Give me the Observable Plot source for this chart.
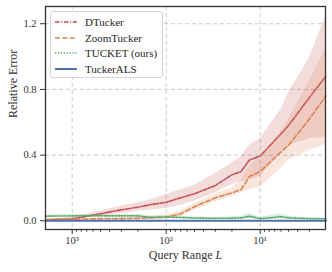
<!DOCTYPE html>
<html>
<head>
<meta charset="utf-8">
<script src="https://cdn.jsdelivr.net/npm/d3@7"></script>
<script src="https://cdn.jsdelivr.net/npm/@observablehq/plot@0.6"></script>
<style>
  body { margin: 0; background: white; }
  #wrap { position: relative; width: 332px; height: 272px; font-family: 'Liberation Serif', 'Times New Roman', serif; }
  #legend { position: absolute; left: 50px; top: 11px; width: 113px; height: 67px; box-sizing: border-box;
            border: 1px solid #d6d6d6; border-radius: 3px; background: rgba(255,255,255,0.85); }
  .row { position: absolute; left: 0; height: 14px; display: flex; align-items: center; font-size: 11px; color: #262626; white-space: nowrap; }
  .row svg { margin-left: 4px; margin-right: 8px; }
</style>
</head>
<body>
<div id="wrap"></div>
<script>
// Query range L (x) values
const L = [1900, 1000, 500, 300, 200, 150, 100, 70, 50, 30, 20, 16, 13, 10, 6, 5, 3, 2];

// DTucker
const dtMean = [0.005, 0.012, 0.043, 0.067, 0.083, 0.097, 0.113, 0.14, 0.165, 0.215, 0.28, 0.30, 0.37, 0.395, 0.53, 0.58, 0.75, 0.88];
const dtLo   = [0.0, 0.005, 0.03, 0.045, 0.058, 0.065, 0.075, 0.095, 0.12, 0.17, 0.22, 0.24, 0.25, 0.27, 0.42, 0.46, 0.50, 0.51];
const dtHi   = [0.01, 0.02, 0.06, 0.09, 0.11, 0.125, 0.16, 0.19, 0.215, 0.29, 0.35, 0.39, 0.46, 0.50, 0.68, 0.78, 0.99, 1.25];

// ZoomTucker
const ztMean = [0.008, 0.01, 0.012, 0.013, 0.015, 0.018, 0.022, 0.043, 0.086, 0.14, 0.17, 0.19, 0.27, 0.30, 0.42, 0.46, 0.62, 0.76];
const ztLo   = [0.003, 0.005, 0.006, 0.007, 0.008, 0.01, 0.013, 0.025, 0.065, 0.115, 0.15, 0.17, 0.19, 0.205, 0.32, 0.37, 0.43, 0.465];
const ztHi   = [0.013, 0.015, 0.018, 0.02, 0.022, 0.026, 0.035, 0.06, 0.105, 0.165, 0.2, 0.245, 0.33, 0.39, 0.54, 0.62, 0.85, 1.05];

// TUCKET (ours)
const tkMean = [0.028, 0.03, 0.03, 0.03, 0.03, 0.022, 0.022, 0.02, 0.017, 0.015, 0.016, 0.018, 0.028, 0.013, 0.025, 0.018, 0.013, 0.012];
const tkLo   = [0.022, 0.024, 0.024, 0.024, 0.024, 0.016, 0.016, 0.014, 0.012, 0.01, 0.01, 0.01, 0.012, 0.008, 0.01, 0.01, 0.008, 0.007];
const tkHi   = [0.036, 0.038, 0.038, 0.038, 0.04, 0.03, 0.03, 0.027, 0.023, 0.021, 0.024, 0.028, 0.046, 0.02, 0.045, 0.028, 0.019, 0.017];

// TuckerALS
const alsMean = [0, 0, 0, 0, 0, 0, 0, 0, 0, 0, 0, 0, 0, 0, 0, 0, 0, 0];

const seriesNames = ["DTucker", "ZoomTucker", "TUCKET (ours)", "TuckerALS"];
const colors = ["#C44E52", "#DD8452", "#55A868", "#4C72B0"];
const dashes = ["4.5,1.6,1.2,1.6", "5,2.4", "1.3,1.6", null];

const xMajor = [1000, 100, 10];
const xMajorLabels = ["10³", "10²", "10¹"];
const xMinor = [900, 800, 700, 600, 500, 400, 300, 200, 90, 80, 70, 60, 50, 40, 30, 20, 9, 8, 7, 6, 5, 4, 3];
const yTicks = [0.0, 0.4, 0.8, 1.2];

const means = [dtMean, ztMean, tkMean, alsMean];
const los = [dtLo, ztLo, tkLo, null];
const his = [dtHi, ztHi, tkHi, null];

const marks = [
  Plot.gridX(xMajor, {stroke: "#c4c4c4", strokeOpacity: 1, strokeWidth: 0.9, strokeDasharray: "4,3"}),
  Plot.gridY(yTicks, {stroke: "#c4c4c4", strokeOpacity: 1, strokeWidth: 0.9, strokeDasharray: "4,3"})
];
seriesNames.forEach((name, i) => {
  const rows = L.map((l, j) => ({L: l, m: means[i][j], lo: los[i] ? los[i][j] : null, hi: his[i] ? his[i][j] : null}));
  if (los[i]) marks.push(Plot.areaY(rows, {x: "L", y1: "lo", y2: "hi", fill: colors[i], fillOpacity: 0.2}));
  marks.push(Plot.lineY(rows, {x: "L", y: "m", stroke: colors[i], strokeWidth: i === 3 ? 2 : 1.6, strokeDasharray: dashes[i] || undefined}));
});
marks.push(
  Plot.frame({stroke: "#333", strokeWidth: 1.3}),
  Plot.axisY(yTicks, {tickSize: 5, tickPadding: 4, tickFormat: d => d.toFixed(1), fontSize: 10.5, color: "#333", label: null}),
  Plot.axisX(xMajor, {tickSize: 5, tickPadding: 2.5, tickFormat: d => xMajorLabels[xMajor.indexOf(d)], fontSize: 10.5, color: "#333", label: null}),
  Plot.axisX(xMinor, {tickSize: 2.7, tickFormat: () => "", color: "#333", label: null}),
  Plot.text(["Relative Error"], {frameAnchor: "left", rotate: -90, dx: -32, fontSize: 12, fill: "#333"}),
  Plot.text(["Query Range L"], {frameAnchor: "bottom", dy: 29, fontSize: 12, fill: "#333"})
);

const chart = Plot.plot({
  width: 332, height: 272,
  marginLeft: 45, marginRight: 7, marginTop: 6, marginBottom: 43,
  style: {fontFamily: "'Liberation Serif', 'Times New Roman', serif", background: "white", overflow: "visible"},
  x: {type: "log", domain: [1923, 2.02], axis: null},
  y: {domain: [-0.053, 1.305], axis: null},
  marks
});
chart.querySelectorAll("text").forEach(t => {
  if (t.textContent === "Query Range L") {
    t.innerHTML = 'Query Range <tspan font-style="italic">L</tspan>';
  }
});
const wrap = document.getElementById("wrap");
wrap.appendChild(chart);

// Legend
const legend = document.createElement("div");
legend.id = "legend";
const rowCenters = [21, 36.7, 52.3, 68];
seriesNames.forEach((name, i) => {
  const row = document.createElement("div");
  row.className = "row";
  row.style.top = (rowCenters[i] - 11 - 7) + "px";
  const ns = "http://www.w3.org/2000/svg";
  const s = document.createElementNS(ns, "svg");
  s.setAttribute("width", 22); s.setAttribute("height", 6);
  const ln = document.createElementNS(ns, "line");
  ln.setAttribute("x1", 0); ln.setAttribute("x2", 22); ln.setAttribute("y1", 3); ln.setAttribute("y2", 3);
  ln.setAttribute("stroke", colors[i]); ln.setAttribute("stroke-width", i === 3 ? 2 : 1.6);
  if (dashes[i]) ln.setAttribute("stroke-dasharray", dashes[i]);
  s.appendChild(ln);
  row.appendChild(s);
  const sp = document.createElement("span");
  sp.textContent = name;
  row.appendChild(sp);
  legend.appendChild(row);
});
wrap.appendChild(legend);
</script>
</body>
</html>
